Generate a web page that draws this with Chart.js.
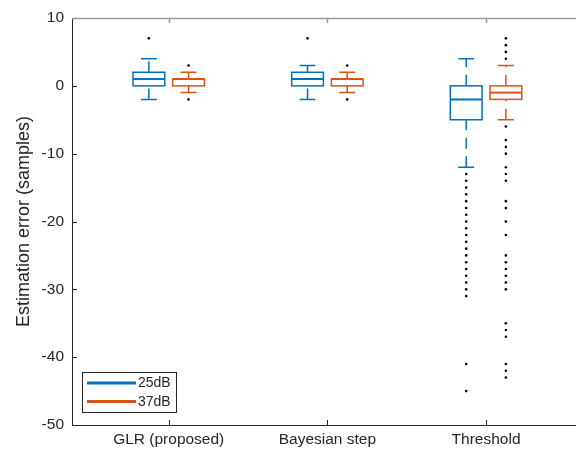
<!DOCTYPE html>
<html>
<head>
<meta charset="utf-8">
<script src="https://cdn.jsdelivr.net/npm/chart.js@4"></script>
<style>
  html, body { margin: 0; padding: 0; background: #fff; }
  #wrap { width: 576px; height: 450px; }
</style>
</head>
<body>
<div id="wrap"><canvas id="myChart" width="576" height="450"></canvas></div>
<script>
// --- Data ---
const categories = ['GLR (proposed)', 'Bayesian step', 'Threshold'];
const seriesNames = ['25dB', '37dB'];
const yTicks = [-50, -40, -30, -20, -10, 0, 10];

// box stats per category: [lower whisker, q1, median, q3, upper whisker]
const stats25 = [[-2, 0, 1, 2, 4], [-2, 0, 1, 2, 3], [-12, -5, -2, 0, 4]];
const stats37 = [[-1, 0, 1, 1, 2], [-1, 0, 1, 1, 2], [-5, -2, -1, 0, 3]];

// outliers per category
const outliers25 = [
    [7],
    [7],
    [-13, -14, -15, -16, -17, -18, -19, -20, -21, -22, -23, -24, -25, -26, -27, -28, -29, -30, -31, -41, -45]
];
const outliers37 = [
    [3, -2],
    [3, -2],
    [7, 6, 5, 4, -6, -8, -9, -10, -12, -13, -14, -17, -18, -20, -22, -25, -26, -27, -28, -29, -30, -35, -36, -37, -41, -42, -43]
];

const colors = ['#0072BD', '#D95319'];
const groupOffset = 0.125;
const boxWidth = 0.2;
const font = 'Liberation Sans, Arial, Helvetica, sans-serif';
const textColor = '#262626';

function outlierPoints(list, off) {
    const pts = [];
    list.forEach((vals, i) => vals.forEach(v => pts.push({ x: i + 1 + off, y: v })));
    return pts;
}

// --- Box plot drawing through the chart scales ---
const boxPlugin = {
    id: 'boxes',
    beforeDatasetsDraw(chart) {
        const { ctx, scales: { x, y }, chartArea: a } = chart;
        ctx.save();

        // axes frame with inward ticks
        ctx.lineWidth = 1;
        ctx.strokeStyle = textColor;
        ctx.beginPath();
        ctx.moveTo(a.left + 0.5, a.top);
        ctx.lineTo(a.left + 0.5, a.bottom + 0.5);
        ctx.lineTo(a.right, a.bottom + 0.5);
        yTicks.forEach(t => {
            const py = Math.round(y.getPixelForValue(t)) + 0.5;
            ctx.moveTo(a.left, py);
            ctx.lineTo(a.left + 5, py);
        });
        categories.forEach((c, i) => {
            const px = Math.round(x.getPixelForValue(i + 1)) + 0.5;
            ctx.moveTo(px, a.bottom);
            ctx.lineTo(px, a.bottom - 5);
        });
        ctx.stroke();

        ctx.strokeStyle = '#9a9a9a';
        ctx.lineWidth = 1.5;
        ctx.beginPath();
        ctx.moveTo(a.left, a.top + 0.5);
        ctx.lineTo(a.right, a.top + 0.5);
        categories.forEach((c, i) => {
            const px = Math.round(x.getPixelForValue(i + 1)) + 0.5;
            ctx.moveTo(px, a.top);
            ctx.lineTo(px, a.top + 5);
        });
        ctx.stroke();

        [stats25, stats37].forEach((stats, s) => {
            const off = s === 0 ? -groupOffset : groupOffset;
            ctx.strokeStyle = colors[s];
            stats.forEach((st, i) => {
                const c = i + 1 + off;
                const xl = x.getPixelForValue(c - boxWidth / 2);
                const xr = x.getPixelForValue(c + boxWidth / 2);
                const xm = x.getPixelForValue(c);
                const cl = x.getPixelForValue(c - boxWidth / 4);
                const cr = x.getPixelForValue(c + boxWidth / 4);
                const [lw, q1, med, q3, uw] = st.map(v => y.getPixelForValue(v));

                // dashed whiskers, drawn from low value to high value
                ctx.lineWidth = 1.5;
                ctx.setLineDash([11, 7.5]);
                ctx.beginPath();
                ctx.moveTo(xm, lw); ctx.lineTo(xm, q1);
                ctx.stroke();
                ctx.beginPath();
                ctx.moveTo(xm, q3); ctx.lineTo(xm, uw);
                ctx.stroke();
                ctx.setLineDash([]);

                // caps
                ctx.beginPath();
                ctx.moveTo(cl, lw); ctx.lineTo(cr, lw);
                ctx.moveTo(cl, uw); ctx.lineTo(cr, uw);
                ctx.stroke();

                // box
                ctx.strokeRect(xl, q3, xr - xl, q1 - q3);

                // median
                ctx.lineWidth = 2;
                ctx.beginPath();
                ctx.moveTo(xl, med); ctx.lineTo(xr, med);
                ctx.stroke();
            });
        });
        ctx.restore();
    },
    afterDatasetsDraw(chart) {
        // legend box in the lower left corner
        const { ctx } = chart;
        ctx.save();
        ctx.fillStyle = '#fff';
        ctx.fillRect(82.5, 372.5, 94, 40);
        ctx.strokeStyle = textColor;
        ctx.lineWidth = 1;
        ctx.strokeRect(82.5, 372.5, 94, 40);
        seriesNames.forEach((name, s) => {
            const ly = 383 + s * 18.5;
            ctx.strokeStyle = colors[s];
            ctx.lineWidth = 3;
            ctx.beginPath();
            ctx.moveTo(87, ly); ctx.lineTo(136, ly);
            ctx.stroke();
            ctx.fillStyle = textColor;
            ctx.font = '14px ' + font;
            ctx.textBaseline = 'middle';
            ctx.textAlign = 'left';
            ctx.fillText(name, 138, ly + 0.5);
        });
        ctx.restore();
    }
};

const ctx = document.getElementById('myChart');
new Chart(ctx, {
    type: 'scatter',
    data: {
        datasets: [
            {
                label: seriesNames[0],
                data: outlierPoints(outliers25, -groupOffset),
                backgroundColor: '#000',
                borderColor: '#000',
                pointRadius: 1.3,
                borderWidth: 0
            },
            {
                label: seriesNames[1],
                data: outlierPoints(outliers37, groupOffset),
                backgroundColor: '#000',
                borderColor: '#000',
                pointRadius: 1.3,
                borderWidth: 0
            }
        ]
    },
    options: {
        responsive: false,
        animation: false,
        layout: { autoPadding: false, padding: { top: 18, right: 0, bottom: 0, left: 0 } },
        scales: {
            x: {
                type: 'linear',
                min: 0.3905,
                max: 3.567,
                afterBuildTicks: axis => { axis.ticks = categories.map((c, i) => ({ value: i + 1 })); },
                afterFit: axis => { axis.height = 25; },
                grid: { display: false, drawTicks: false },
                border: { display: false },
                ticks: {
                    padding: 5,
                    color: textColor,
                    font: { family: font, size: 15.5 },
                    maxRotation: 0,
                    autoSkip: false,
                    callback: v => categories[v - 1] || ''
                }
            },
            y: {
                min: -50,
                max: 10,
                afterBuildTicks: axis => { axis.ticks = yTicks.map(v => ({ value: v })); },
                afterFit: axis => { axis.width = 72; },
                grid: { display: false, drawTicks: false },
                border: { display: false },
                ticks: {
                    padding: 8,
                    color: textColor,
                    font: { family: font, size: 15.5 }
                },
                title: {
                    display: true,
                    text: 'Estimation error (samples)',
                    color: textColor,
                    font: { family: font, size: 18 },
                    padding: { top: 13, bottom: 0 }
                }
            }
        },
        plugins: {
            legend: { display: false },
            tooltip: { enabled: false }
        }
    },
    plugins: [boxPlugin]
});
</script>
</body>
</html>
